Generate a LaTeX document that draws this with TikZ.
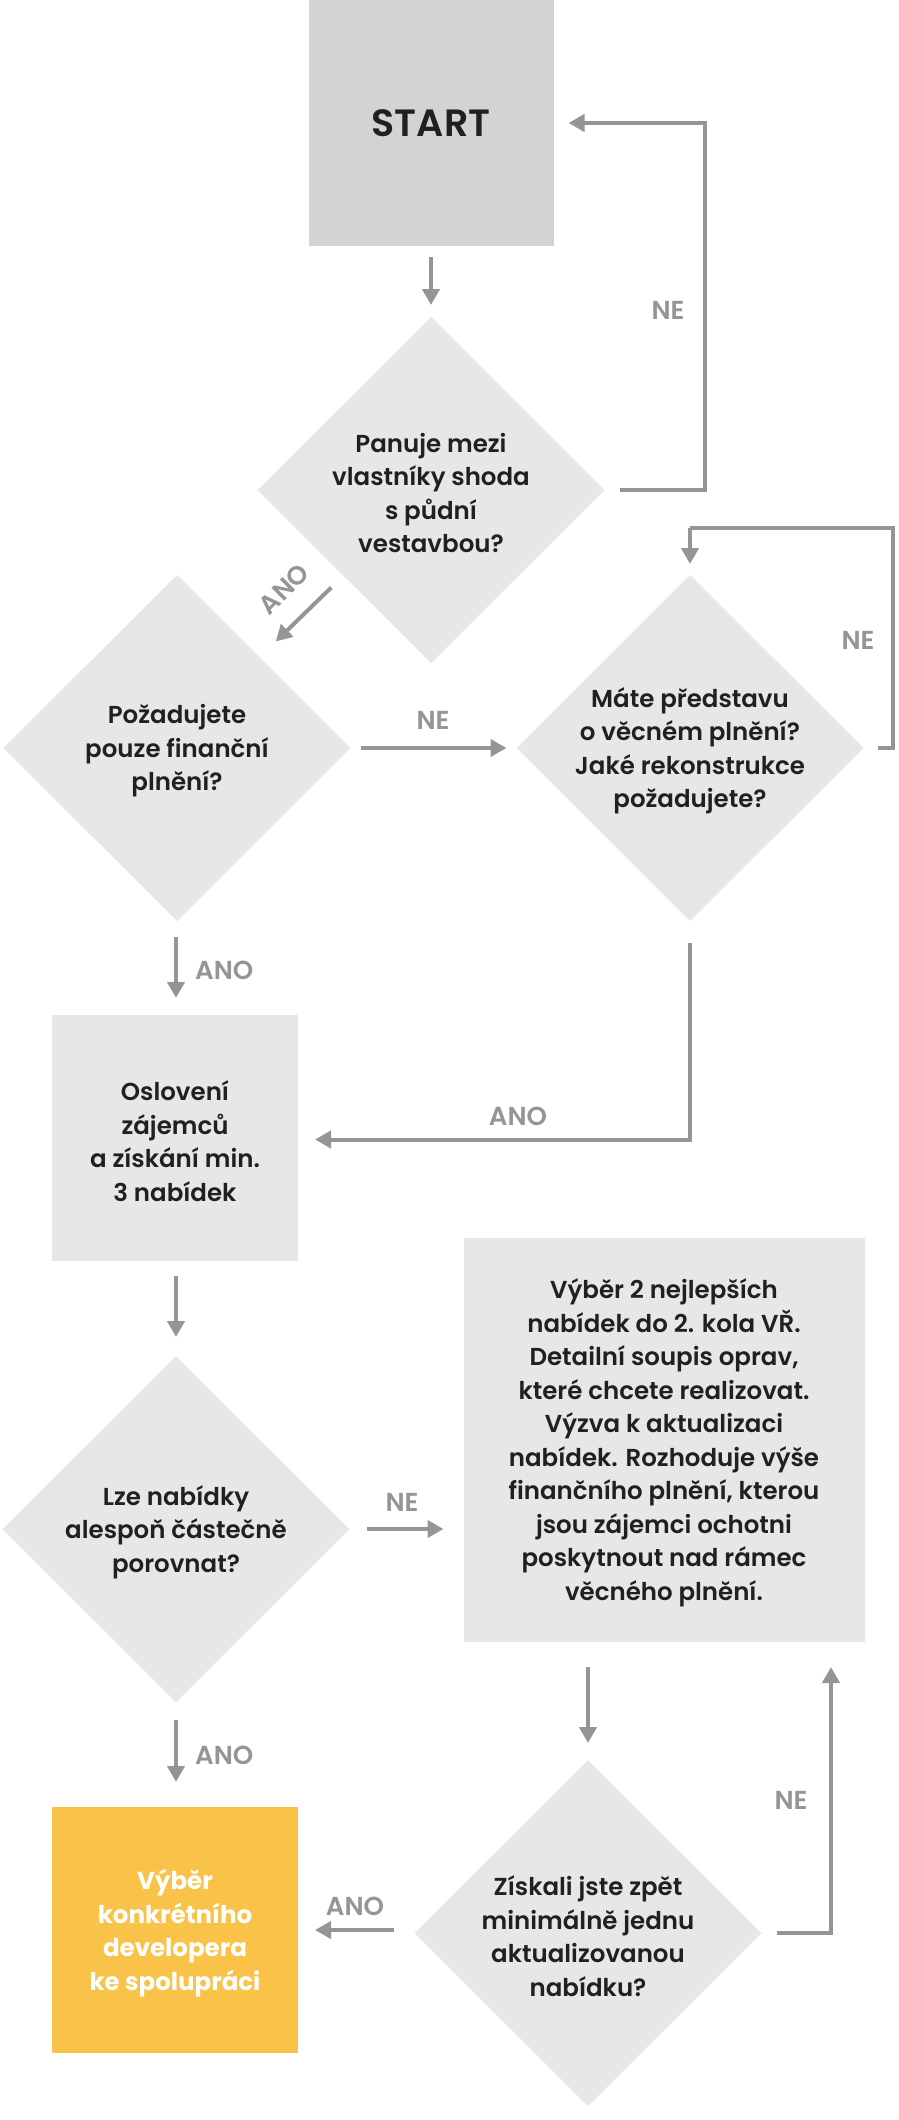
\documentclass[tikz,border=0pt]{standalone}
\usepackage{fontspec}
\setmainfont{Poppins}[UprightFont=* SemiBold, BoldFont=* Bold]
\usetikzlibrary{shapes.geometric,arrows.meta,calc}
\definecolor{boxgray}{HTML}{E6E7E8}
\definecolor{startgray}{HTML}{D1D3D4}
\definecolor{arrgray}{HTML}{939598}
\definecolor{ygold}{HTML}{F9C349}
\definecolor{txtblack}{HTML}{231F20}
\begin{document}
\begin{tikzpicture}[x=1pt,y=-1pt,
  dia/.style={diamond,aspect=1,fill=boxgray,inner sep=0pt,outer sep=0pt,minimum width=347pt,minimum height=346pt},
  sqbox/.style={rectangle,fill=boxgray,inner sep=0pt,outer sep=0pt,minimum width=246pt,minimum height=246pt},
  qtxt/.style={align=center,text=txtblack,font=\fontsize{24.5}{33.5}\selectfont,inner sep=0pt},
  lbl/.style={text=arrgray,font=\fontsize{26}{28}\selectfont,inner sep=0pt},
  arr/.style={draw=arrgray,line width=4pt,-{Triangle[length=16pt,width=17pt]}},
  ln/.style={draw=arrgray,line width=4pt}
]
\useasboundingbox (0,0) rectangle (898,2120);

% shapes
\node[sqbox,fill=startgray,minimum width=245pt] (start) at (431,123) {};
\node[qtxt,font=\fontsize{38}{44}\selectfont] (starttxt) at (start) {START};

\node[dia] (d1) at (431,490) {};
\node[qtxt] (d1t) at ($(d1)+(0,3)$) {Panuje mezi\\vlastníky shoda\\s půdní\\vestavbou?};

\node[dia] (d2) at (177,748) {};
\node[qtxt] (d2t) at ($(d2)+(0,3)$) {Požadujete\\pouze finanční\\plnění?};

\node[dia] (d3) at (690,748) {};
\node[qtxt] (d3t) at ($(d3)+(0,3)$) {Máte představu\\o věcném plnění?\\Jaké rekonstrukce\\požadujete?};

\node[sqbox] (osl) at (175,1138) {};
\node[qtxt] (oslt) at ($(osl)+(0,3)$) {Oslovení\\zájemců\\a získání min.\\3 nabídek};

\node[sqbox,minimum width=401pt,minimum height=404pt] (big) at (664,1440) {};
\node[qtxt] (bigt) at ($(big)+(0,3)$) {Výběr 2 nejlepších\\nabídek do 2. kola VŘ.\\Detailní soupis oprav,\\které chcete realizovat.\\Výzva k aktualizaci\\nabídek. Rozhoduje výše\\finančního plnění, kterou\\jsou zájemci ochotni\\poskytnout nad rámec\\věcného plnění.};

\node[dia] (d4) at (176,1529) {};
\node[qtxt] (d4t) at ($(d4)+(0,3)$) {Lze nabídky\\alespoň částečně\\porovnat?};

\node[sqbox,fill=ygold] (yel) at (175,1930) {};
\node[qtxt,text=white,font=\fontsize{24.5}{33.5}\selectfont\bfseries] (yelt) at ($(yel)+(0,3)$) {Výběr\\konkrétního\\developera\\ke spolupráci};

\node[dia] (d5) at (588,1933) {};
\node[qtxt] (d5t) at ($(d5)+(0,3)$) {Získali jste zpět\\minimálně jednu\\aktualizovanou\\nabídku?};

% connectors
\draw[arr] ($(start.south)+(0,11)$) -- ($(d1.north)+(0,-12)$);

\coordinate (c1) at (705,0);
\draw[arr] ($(d1.east)+(15,0)$) -- (d1.east -| c1) |- ($(start.east)+(15,0)$);
\node[lbl] (ne1) at (668,310) {NE};

\draw[arr] ($(d1.west)!0.5!(d1.south)+(-13,11)$) -- ($(d2.north)!0.5!(d2.east)+(12,-20)$);
\node[lbl,rotate=45] (ano1) at (284,589) {ANO};

\draw[arr] ($(d2.east)+(10,0)$) -- ($(d3.west)+(-10,0)$);
\node[lbl] (ne2) at (433,720) {NE};

\coordinate (c2) at (893,528);
\draw[ln] ($(d3.east)+(14,0)$) -- (d3.east -| c2) -- (c2) -- (c2 -| d3.north);
\draw[arr] (c2 -| d3.north) -- ($(d3.north)+(0,-11)$);
\node[lbl] (ne3) at (858,640) {NE};

\draw[arr] ($(d2.south)+(-1,16)$) -- ($(osl.north)+(1,-17)$);
\node[lbl,anchor=west] (ano2) at (195,970) {ANO};

\draw[arr] ($(d3.south)+(0,22)$) |- ($(osl.east)+(17,1.5)$);
\node[lbl] (ano3) at (518,1116) {ANO};

\draw[arr] ($(osl.south)+(1,15)$) -- ($(d4.north)+(0,-19)$);

\draw[arr] ($(d4.east)+(17,0)$) -- ($(big.west |- d4.east)+(-20,0)$);
\node[lbl] (ne4) at (402,1502) {NE};

\draw[arr] ($(d4.south)+(0,18)$) -- ($(yel.north)+(1,-25)$);
\node[lbl,anchor=west] (ano4) at (195,1755) {ANO};

\draw[arr] ($(d5.north |- big.south)+(0,25)$) -- ($(d5.north)+(0,-17)$);

\draw[arr] ($(d5.west)+(-21,-3)$) -- ($(yel.east |- d5.west)+(17,-3)$);
\node[lbl] (ano5) at (355,1906) {ANO};

\coordinate (c3) at (831,0);
\draw[arr] ($(d5.east)+(15,0)$) -- (d5.east -| c3) -- ($(c3 |- big.south)+(0,25)$);
\node[lbl] (ne5) at (791,1800) {NE};
\end{tikzpicture}
\end{document}
